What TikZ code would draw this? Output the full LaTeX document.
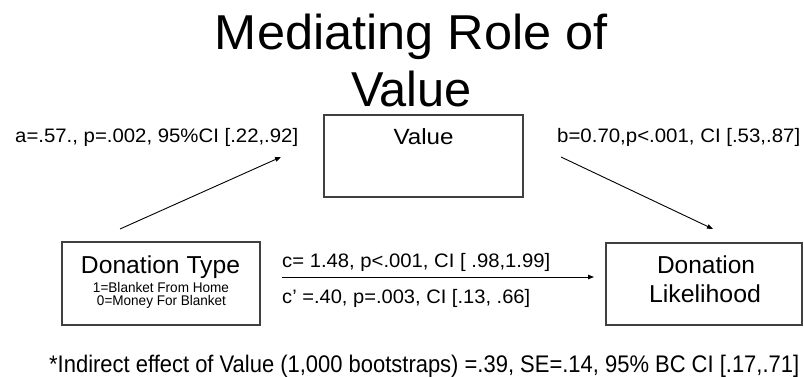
\documentclass[tikz,border=0pt]{standalone}
\usepackage{fontspec}
\setmainfont{Liberation Sans}
\usepackage{graphicx}
\usetikzlibrary{arrows.meta}
\newcommand{\fitw}[2]{\resizebox{#1}{\height}{#2}}
\begin{document}
\begin{tikzpicture}[x=1pt,y=-1pt,
  boxnode/.style={draw=black!75, line width=1.1pt, rectangle, inner sep=0pt},
  lbl/.style={inner sep=0pt, anchor=base west, font=\fontsize{19.5}{23}\selectfont},
  ctext/.style={inner sep=0pt, anchor=base},
  bigf/.style={font=\fontsize{24.5}{29}\selectfont},
  smallf/.style={font=\fontsize{14}{17}\selectfont},
  arr/.style={-{Triangle[length=6pt,width=4.5pt]}, line width=0.9pt}]
\useasboundingbox (0,0) rectangle (804,377);
% title
\node[ctext, font=\fontsize{49}{58}\selectfont] (t1) at (411.5,50) {\fitw{393pt}{Mediating Role of}};
\node[ctext, font=\fontsize{49}{58}\selectfont] (t2) at (411.5,107) {\fitw{121pt}{Value}};
% boxes
\node[boxnode, minimum width=199pt, minimum height=82pt] (val) at (423.5,156) {};
\node[boxnode, minimum width=198pt, minimum height=83pt] (dt) at (161,283.5) {};
\node[boxnode, minimum width=196pt, minimum height=82pt] (dl) at (704,284) {};
% box texts
\node[ctext, font=\fontsize{22}{26}\selectfont] (valt) at (423.5,145) {\fitw{60pt}{Value}};
\node[ctext, bigf] (dtt) at (160.5,273) {\fitw{159pt}{Donation Type}};
\node[ctext, smallf] (dt1) at (161,292) {\fitw{136pt}{1=Blanket From Home}};
\node[ctext, smallf] (dt2) at (161.5,305) {\fitw{129pt}{0=Money For Blanket}};
\node[ctext, bigf] (dl1) at (706,273) {\fitw{98pt}{Donation}};
\node[ctext, bigf] (dl2) at (705,302) {\fitw{112pt}{Likelihood}};
% path labels
\node[lbl] (la) at (15,143) {\fitw{283pt}{a=.57., p=.002, 95\%CI [.22,.92]}};
\node[lbl] (lb) at (557,143) {\fitw{243pt}{b=0.70,p<.001, CI [.53,.87]}};
\node[lbl] (lc) at (282,267) {\fitw{268pt}{c= 1.48, p<.001, CI [ .98,1.99]}};
\node[lbl] (lcp) at (282,303) {\fitw{248pt}{c’ =.40, p=.003, CI [.13, .66]}};
% footnote
\node[lbl, font=\fontsize{24}{28}\selectfont] (foot) at (49,372) {\fitw{750pt}{*Indirect effect of Value (1,000 bootstraps) =.39, SE=.14, 95\% BC CI [.17,.71]}};
% connectors
\coordinate (a0) at (120,229);
\coordinate (a1) at (281,157);
\coordinate (b0) at (561,157);
\coordinate (b1) at (713,229);
\coordinate (c0) at (282,277);
\coordinate (c1) at (594,277);
\draw[arr] (a0) -- (a1);
\draw[arr] (b0) -- (b1);
\draw[arr] (c0) -- (c1);
\end{tikzpicture}
\end{document}
